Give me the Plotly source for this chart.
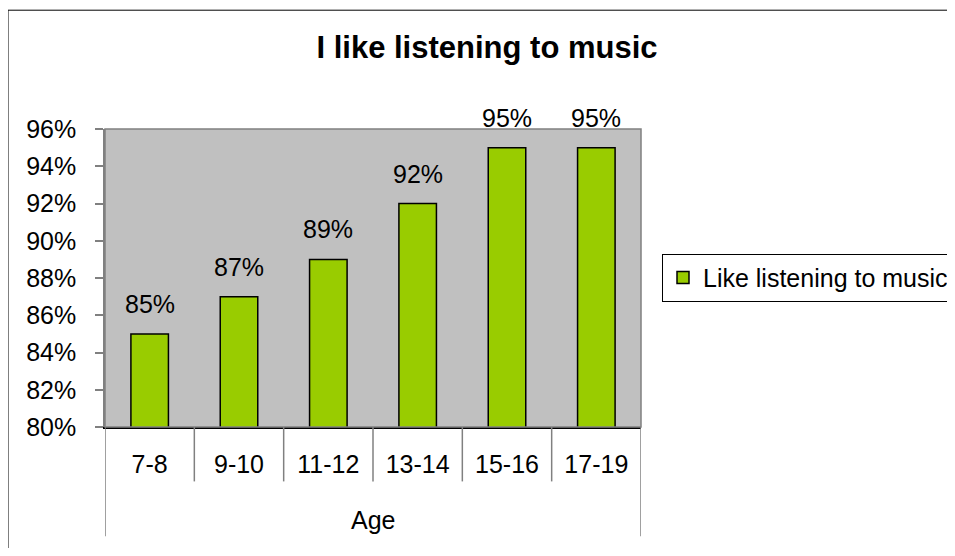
import plotly.graph_objects as go

categories = ["7-8", "9-10", "11-12", "13-14", "15-16", "17-19"]
values = [0.85, 0.87, 0.89, 0.92, 0.95, 0.95]
series_name = "Like listening to music"
title_text = "I like listening to music"
axis_title = "Age"

FONT = "Liberation Sans, Arial, sans-serif"
OFF = 8  # default page body margin
W, H = 955 - OFF, 556 - 2 * OFF
L, R, T, B = 105 - OFF, 641 - OFF, 129 - OFF, 427.5 - OFF
ph = B - T
pw = R - L


def px_y(y):
    return (B - (y - OFF)) / ph


def px_x(x):
    return ((x - OFF) - L) / pw


fig = go.Figure()
fig.add_trace(go.Bar(
    x=categories, y=values, name=series_name,
    marker=dict(color="#99CC00", line=dict(color="#000000", width=1.5)),
    width=0.42, showlegend=True,
))

annotations = []
for c, v in zip(categories, values):
    annotations.append(dict(
        x=c, y=v, xref="x", yref="y", text=f"{round(v*100)}%",
        showarrow=False, yanchor="bottom", yshift=14,
        font=dict(family=FONT, size=25, color="#000000"),
    ))
annotations.append(dict(
    x=0.5, y=px_y(521), xref="paper", yref="paper", text=axis_title,
    showarrow=False, yanchor="middle", xanchor="center",
    font=dict(family=FONT, size=25, color="#000000"),
))

shapes = []
n = len(categories)
# plot area border
shapes.append(dict(type="rect", xref="paper", yref="paper", x0=0, x1=1, y0=0, y1=1,
                   line=dict(color="#808080", width=1.5), layer="above"))
# category dividers
for i in range(n + 1):
    outer = i == 0 or i == n
    y1 = px_y(537) if outer else px_y(482)
    shapes.append(dict(type="line", xref="x", yref="paper", x0=i - 0.5, x1=i - 0.5,
                       y0=0, y1=y1, line=dict(color="#808080", width=1.5)))
# outer chart border (left and top edges visible)
shapes.append(dict(type="line", xref="paper", yref="paper",
                   x0=px_x(8), x1=px_x(8), y0=px_y(600), y1=px_y(10),
                   line=dict(color="#000000", width=1)))
shapes.append(dict(type="line", xref="paper", yref="paper",
                   x0=px_x(8), x1=px_x(956), y0=px_y(10), y1=px_y(10),
                   line=dict(color="#000000", width=1)))

fig.update_layout(
    width=W, height=H,
    margin=dict(l=L, r=W - R, t=T, b=H - B, pad=0, autoexpand=False),
    paper_bgcolor="#FFFFFF", plot_bgcolor="#C0C0C0",
    font=dict(family=FONT, size=25, color="#000000"),
    title=dict(text=f"<b>{title_text}</b>", x=(487 - OFF) / W, xref="container", xanchor="center",
               y=1 - (47 - OFF) / H, yref="container", yanchor="middle",
               font=dict(family=FONT, size=31, color="#000000")),
    xaxis=dict(type="category", range=[-0.5, n - 0.5], showgrid=False, ticks="",
               showline=True, linecolor="#000000", linewidth=1.5,
               tickfont=dict(family=FONT, size=25, color="#000000"),
               ticklabelstandoff=14, automargin=False),
    yaxis=dict(range=[0.80, 0.96], dtick=0.02, tickformat=".0%", showgrid=False,
               ticks="outside", ticklen=8, tickcolor="#808080", tickwidth=1.5,
               showline=True, linecolor="#808080", linewidth=1.5,
               tickfont=dict(family=FONT, size=25, color="#000000"),
               ticklabelstandoff=14, zeroline=False, automargin=False),
    legend=dict(x=px_x(662), y=px_y(278), xanchor="left", yanchor="middle",
                bordercolor="#000000", borderwidth=1, bgcolor="#FFFFFF",
                font=dict(family=FONT, size=25, color="#000000")),
    annotations=annotations, shapes=shapes,
)

fig.write_html("out.html")
